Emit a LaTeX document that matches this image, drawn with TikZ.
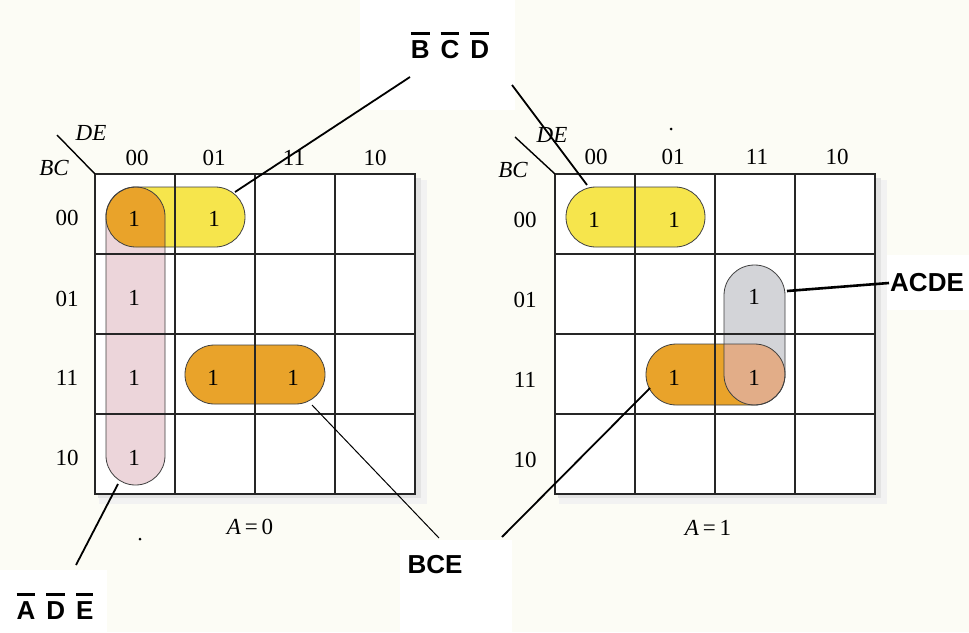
\documentclass[tikz,border=0pt]{standalone}
\usepackage{fontspec}
\setmainfont{Liberation Serif}
\newfontfamily\labfont{Liberation Sans}
\newcommand\obar[1]{\vbox{\hrule height 2.8pt\kern 5pt\hbox{#1}}}
\definecolor{bgc}{HTML}{FCFCF5}
\definecolor{yel}{HTML}{F6E54C}
\definecolor{org}{HTML}{E9A32A}
\definecolor{pnk}{HTML}{ECD5DA}
\definecolor{gry}{HTML}{D3D4D8}
\definecolor{pch}{HTML}{E2AD88}
\begin{document}
\begin{tikzpicture}[x=1pt,y=-1pt,
  gridline/.style={line width=1.6pt,black!85},
  numtxt/.style={font=\fontsize{23}{26}\selectfont,inner sep=0pt},
  vartxt/.style={font=\fontsize{23}{26}\selectfont\itshape,inner sep=0pt},
  lbl/.style={font=\labfont\bfseries\fontsize{26}{30}\selectfont,inner sep=1pt},
  loopline/.style={draw=black!75,line width=0.8pt},
  conn/.style={line width=1.8pt,black},
  thinconn/.style={line width=1pt,black}]
\useasboundingbox (0,0) rectangle (969,632);
% background
\fill[bgc] (0,0) rectangle (969,632);
\fill[white] (360,0) rectangle (515,110);
\fill[white] (400,540) rectangle (512,632);
\fill[white] (0,570) rectangle (107,632);
\fill[white] (885,255) rectangle (969,310);
% grid shadows and paper
\foreach \gx in {95,555}{
  \fill[black!5] (\gx+4,180) rectangle (\gx+332,504);
  \fill[black!11] (\gx+3,178) rectangle (\gx+326,498);
  \fill[white] (\gx,174) rectangle (\gx+320,494);
}
% ---------- left map loops ----------
\fill[pnk] [rounded corners=29.4pt] (106,187) rectangle (165,485);
\fill[yel] [rounded corners=29.9pt] (106,187) rectangle (245,247);
\begin{scope}
  \clip[rounded corners=29.4pt] (106,187) rectangle (165,485);
  \fill[org] [rounded corners=29.9pt] (106,187) rectangle (245,247);
\end{scope}
\draw[loopline,rounded corners=29.4pt] (106,187) rectangle (165,485);
\draw[loopline,rounded corners=29.9pt] (106,187) rectangle (245,247);
\fill[org] [rounded corners=29.4pt] (185,345) rectangle (325,404);
\draw[loopline,rounded corners=29.4pt] (185,345) rectangle (325,404);
% ---------- right map loops ----------
\fill[yel] [rounded corners=29.9pt] (566,187) rectangle (705,247);
\draw[loopline,rounded corners=29.9pt] (566,187) rectangle (705,247);
\fill[gry] [rounded corners=30.4pt] (724,265) rectangle (785,405);
\fill[org] [rounded corners=30.4pt] (646,344) rectangle (785,405);
\begin{scope}
  \clip[rounded corners=30.4pt] (724,265) rectangle (785,405);
  \fill[pch] [rounded corners=30.4pt] (646,344) rectangle (785,405);
\end{scope}
\draw[loopline,rounded corners=30.4pt] (724,265) rectangle (785,405);
\draw[loopline,rounded corners=30.4pt] (646,344) rectangle (785,405);
% grid lines
\foreach \gx in {95,555}{
  \draw[gridline] (\gx,174) rectangle (\gx+320,494);
  \foreach \k in {80,160,240}{
    \draw[gridline] (\gx+\k,174) -- (\gx+\k,494);
    \draw[gridline] (\gx,174+\k) -- (\gx+320,174+\k);
  }
}
% ---------- left headers ----------
\draw[line width=1.4pt] (57,135) -- (95,174);
\node[vartxt] (lde) at (91,133) {DE};
\node[vartxt] (lbc) at (54,168) {BC};
\node[numtxt] (lh1) at (137,158) {00};
\node[numtxt] (lh2) at (214,158) {01};
\node[numtxt] (lh3) at (294,158) {11};
\node[numtxt] (lh4) at (375,158) {10};
\node[numtxt] (lr1) at (67,218) {00};
\node[numtxt] (lr2) at (67,299) {01};
\node[numtxt] (lr3) at (67,378) {11};
\node[numtxt] (lr4) at (67,458) {10};
% ---------- right headers ----------
\draw[line width=1.4pt] (515,137) -- (555,174);
\node[vartxt] (rde) at (552,135) {DE};
\node[vartxt] (rbc) at (513,170) {BC};
\node[numtxt] (rh1) at (596,157) {00};
\node[numtxt] (rh2) at (673,157) {01};
\node[numtxt] (rh3) at (757,157) {11};
\node[numtxt] (rh4) at (837,157) {10};
\node[numtxt] (rr1) at (525,220) {00};
\node[numtxt] (rr2) at (525,300) {01};
\node[numtxt] (rr3) at (525,380) {11};
\node[numtxt] (rr4) at (525,460) {10};
% ---------- cell ones ----------
\node[numtxt] (l00) at (134,219) {1};
\node[numtxt] (l01) at (214,219) {1};
\node[numtxt] (l10) at (134,298) {1};
\node[numtxt] (l20) at (134,378) {1};
\node[numtxt] (l21) at (213,378) {1};
\node[numtxt] (l22) at (293,378) {1};
\node[numtxt] (l30) at (134,458) {1};
\node[numtxt] (r00) at (594,220) {1};
\node[numtxt] (r01) at (674,220) {1};
\node[numtxt] (r12) at (754,297) {1};
\node[numtxt] (r21) at (674,378) {1};
\node[numtxt] (r22) at (754,378) {1};
% captions
\node[numtxt] (cap0) at (250,527) {\textit{A}\,=\,0};
\node[numtxt] (cap1) at (708,528) {\textit{A}\,=\,1};
% dots
\fill (671,129) circle (1.5pt);
\fill (140,539) circle (1.5pt);
% ---------- labels ----------
\node[lbl,anchor=base] (bcd) at (450,58) {\obar{B}\hspace{11pt}\obar{C}\hspace{11pt}\obar{D}};
\node[lbl,anchor=base] (ade) at (55,619) {\obar{A}\hspace{11pt}\obar{D}\hspace{11pt}\obar{E}};
\node[lbl] (bce) at (435,565) {BCE};
\node[lbl,anchor=west] (acde) at (889,283) {ACDE};
% connector anchor points
\coordinate (pbcdL) at (235,192);
\coordinate (ebcdL) at (410,77);
\coordinate (pbcdR) at (587,185);
\coordinate (ebcdR) at (512,85);
\coordinate (pade) at (118,484);
\coordinate (eade) at (76,565);
\coordinate (pbceL) at (312,405);
\coordinate (ebceL) at (439,538);
\coordinate (pbceR) at (650,388);
\coordinate (ebceR) at (502,537);
\coordinate (pacde) at (787,291);
\coordinate (eacde) at (acde.west);
% connectors
\draw[conn] (pbcdL) -- (ebcdL);
\draw[conn] (pbcdR) -- (ebcdR);
\draw[conn] (pade) -- (eade);
\draw[thinconn] (pbceL) -- (ebceL);
\draw[conn] (pbceR) -- (ebceR);
\draw[line width=2.6pt] (pacde) -- (eacde);
\end{tikzpicture}
\end{document}
